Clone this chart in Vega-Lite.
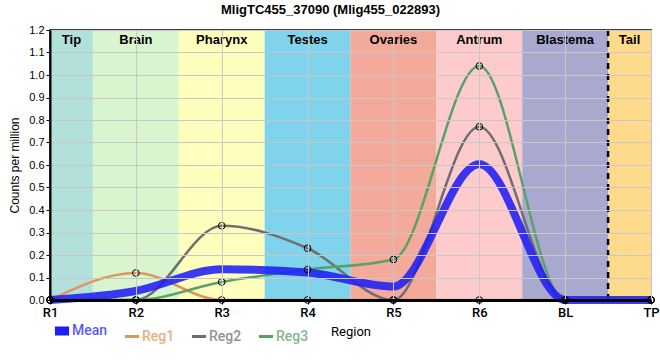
{
  "$schema": "https://vega.github.io/schema/vega-lite/v6.json",
  "width": 601,
  "height": 270,
  "autosize": {"type": "none"},
  "padding": {"left": 50, "top": 30, "right": 9, "bottom": 60},
  "background": "white",
  "title": {"text": "MligTC455_37090 (Mlig455_022893)", "font": "Liberation Sans", "fontSize": 13, "fontWeight": "bold", "color": "black", "dx": -20, "offset": 12, "baseline": "top", "dy": 5},
  "config": {
    "view": {"stroke": "black", "strokeWidth": 1.5},
    "font": "Liberation Sans"
  },
  "datasets": {
    "bands": [
      {"name": "Tip", "x0": 0, "x1": 0.5},
      {"name": "Brain", "x0": 0.5, "x1": 1.5},
      {"name": "Pharynx", "x0": 1.5, "x1": 2.5},
      {"name": "Testes", "x0": 2.5, "x1": 3.5},
      {"name": "Ovaries", "x0": 3.5, "x1": 4.5},
      {"name": "Antrum", "x0": 4.5, "x1": 5.5},
      {"name": "Blastema", "x0": 5.5, "x1": 6.5},
      {"name": "Tail", "x0": 6.5, "x1": 7}
    ],
    "expr": [
      {"region": "R1", "i": 0, "series": "Reg1", "value": 0},
      {"region": "R2", "i": 1, "series": "Reg1", "value": 0.12},
      {"region": "R3", "i": 2, "series": "Reg1", "value": 0},
      {"region": "R4", "i": 3, "series": "Reg1", "value": 0},
      {"region": "R5", "i": 4, "series": "Reg1", "value": 0},
      {"region": "R6", "i": 5, "series": "Reg1", "value": 0},
      {"region": "BL", "i": 6, "series": "Reg1", "value": 0},
      {"region": "TP", "i": 7, "series": "Reg1", "value": 0},
      {"region": "R1", "i": 0, "series": "Reg2", "value": 0},
      {"region": "R2", "i": 1, "series": "Reg2", "value": 0},
      {"region": "R3", "i": 2, "series": "Reg2", "value": 0.33},
      {"region": "R4", "i": 3, "series": "Reg2", "value": 0.23},
      {"region": "R5", "i": 4, "series": "Reg2", "value": 0},
      {"region": "R6", "i": 5, "series": "Reg2", "value": 0.77},
      {"region": "BL", "i": 6, "series": "Reg2", "value": 0},
      {"region": "TP", "i": 7, "series": "Reg2", "value": 0},
      {"region": "R1", "i": 0, "series": "Reg3", "value": 0},
      {"region": "R2", "i": 1, "series": "Reg3", "value": 0},
      {"region": "R3", "i": 2, "series": "Reg3", "value": 0.08},
      {"region": "R4", "i": 3, "series": "Reg3", "value": 0.135},
      {"region": "R5", "i": 4, "series": "Reg3", "value": 0.18},
      {"region": "R6", "i": 5, "series": "Reg3", "value": 1.04},
      {"region": "BL", "i": 6, "series": "Reg3", "value": 0},
      {"region": "TP", "i": 7, "series": "Reg3", "value": 0},
      {"region": "R1", "i": 0, "series": "Mean", "value": 0},
      {"region": "R2", "i": 1, "series": "Mean", "value": 0.04},
      {"region": "R3", "i": 2, "series": "Mean", "value": 0.137},
      {"region": "R4", "i": 3, "series": "Mean", "value": 0.122},
      {"region": "R5", "i": 4, "series": "Mean", "value": 0.06},
      {"region": "R6", "i": 5, "series": "Mean", "value": 0.603},
      {"region": "BL", "i": 6, "series": "Mean", "value": 0},
      {"region": "TP", "i": 7, "series": "Mean", "value": 0}
    ],
    "divider": [{"pos": 6.5}]
  },
  "layer": [
    {
      "data": {"name": "bands"},
      "mark": {"type": "rect"},
      "encoding": {
        "x": {"field": "x0", "type": "quantitative", "scale": {"domain": [0, 7], "nice": false, "zero": false},
          "axis": {"values": [0, 1, 2, 3, 4, 5, 6, 7], "labelExpr": "['R1','R2','R3','R4','R5','R6','BL','TP'][datum.value]", "title": "Region", "titleFont": "Roboto", "titleFontSize": 13, "titleFontWeight": "normal", "titleColor": "black", "titlePadding": 6, "labelFont": "Roboto", "labelFontSize": 13, "labelFontWeight": 500, "labelColor": "black", "labelPadding": 2, "domainColor": "black", "domainWidth": 3, "tickColor": "black", "tickSize": 4, "gridColor": "#c8c8c8", "gridWidth": 1, "zindex": 1, "labelFlush": false}},
        "x2": {"field": "x1"},
        "y": {"value": 0},
        "y2": {"value": 270},
        "fill": {"field": "name", "type": "nominal", "legend": null,
          "scale": {"domain": ["Tip", "Brain", "Pharynx", "Testes", "Ovaries", "Antrum", "Blastema", "Tail"],
            "range": ["#b2e1dc", "#d9f5d0", "#ffffbd", "#7fd4ec", "#f4aa9b", "#fdcbcc", "#a9a8ce", "#fedb8c"]}}
      }
    },
    {
      "data": {"name": "bands"},
      "transform": [{"calculate": "(datum.x0 + datum.x1) / 2", "as": "mid"}],
      "mark": {"type": "text", "font": "Liberation Sans", "fontSize": 13, "fontWeight": "bold", "color": "black", "baseline": "middle"},
      "encoding": {
        "x": {"field": "mid", "type": "quantitative"},
        "y": {"value": 10},
        "text": {"field": "name"}
      }
    },
    {
      "data": {"name": "divider"},
      "mark": {"type": "rule", "color": "black", "strokeWidth": 2.5, "strokeDash": [6, 5]},
      "encoding": {"x": {"field": "pos", "type": "quantitative"}}
    },
    {
      "data": {"name": "expr"},
      "transform": [{"filter": "datum.series !== 'Mean'"}],
      "mark": {"type": "line", "interpolate": "monotone", "strokeWidth": 2.5},
      "encoding": {
        "x": {"field": "i", "type": "quantitative"},
        "y": {"field": "value", "type": "quantitative",
          "scale": {"domain": [0, 1.2], "nice": false},
          "axis": {"values": [0, 0.1, 0.2, 0.3, 0.4, 0.5, 0.6, 0.7, 0.8, 0.9, 1.0, 1.1, 1.2], "format": ".1f", "title": "Counts per million", "titleFont": "Liberation Sans", "titleFontSize": 12, "titleFontWeight": "normal", "titleColor": "black", "titlePadding": 7, "labelFont": "Liberation Sans", "labelFontSize": 11, "labelColor": "black", "domainColor": "black", "domainWidth": 2, "tickColor": "black", "tickSize": 4, "gridColor": "#c8c8c8", "gridWidth": 1, "zindex": 1, "labelOverlap": false}},
        "detail": {"field": "series"},
        "color": {"field": "series", "type": "nominal",
          "scale": {"domain": ["Mean", "Reg1", "Reg2", "Reg3"], "range": ["#1f1ff5", "#e0955a", "#6e6e6e", "#5aa06a"]},
          "legend": {"title": null, "orient": "none", "legendX": 5, "legendY": 294, "direction": "horizontal", "symbolType": "stroke", "symbolSize": 200, "symbolStrokeWidth": 3, "labelFont": "Roboto", "labelFontSize": 14, "labelFontWeight": 500, "columnPadding": 10, "labelOffset": 3,
            "encode": {"symbols": {"update": {"strokeWidth": {"signal": "datum.value === 'Mean' ? 9 : 3"}}},
                       "labels": {"update": {"fill": {"signal": "scale('color', datum.value)"}, "opacity": {"value": 0.75}}}}}}
      }
    },
    {
      "data": {"name": "expr"},
      "transform": [{"filter": "datum.series === 'Mean'"}],
      "mark": {"type": "line", "interpolate": "monotone", "strokeWidth": 8, "opacity": 0.88},
      "encoding": {
        "x": {"field": "i", "type": "quantitative"},
        "y": {"field": "value", "type": "quantitative",
          "axis": {"values": [0, 0.1, 0.2, 0.3, 0.4, 0.5, 0.6, 0.7, 0.8, 0.9, 1.0, 1.1, 1.2], "format": ".1f", "title": "Counts per million", "titleFont": "Liberation Sans", "titleFontSize": 12, "titleFontWeight": "normal", "titleColor": "black", "titlePadding": 7, "labelFont": "Liberation Sans", "labelFontSize": 11, "labelColor": "black", "domainColor": "black", "domainWidth": 2, "tickColor": "black", "tickSize": 4, "gridColor": "#c8c8c8", "gridWidth": 1, "zindex": 1, "labelOverlap": false}},
        "color": {"field": "series", "type": "nominal"}
      }
    },
    {
      "data": {"name": "expr"},
      "transform": [{"filter": "datum.series !== 'Mean'"}],
      "mark": {"type": "point", "filled": false, "color": "black", "size": 45, "strokeWidth": 1, "opacity": 1},
      "encoding": {
        "x": {"field": "i", "type": "quantitative"},
        "y": {"field": "value", "type": "quantitative",
          "axis": {"values": [0, 0.1, 0.2, 0.3, 0.4, 0.5, 0.6, 0.7, 0.8, 0.9, 1.0, 1.1, 1.2], "format": ".1f", "title": "Counts per million", "titleFont": "Liberation Sans", "titleFontSize": 12, "titleFontWeight": "normal", "titleColor": "black", "titlePadding": 7, "labelFont": "Liberation Sans", "labelFontSize": 11, "labelColor": "black", "domainColor": "black", "domainWidth": 2, "tickColor": "black", "tickSize": 4, "gridColor": "#c8c8c8", "gridWidth": 1, "zindex": 1, "labelOverlap": false}}
      }
    }
  ]
}
